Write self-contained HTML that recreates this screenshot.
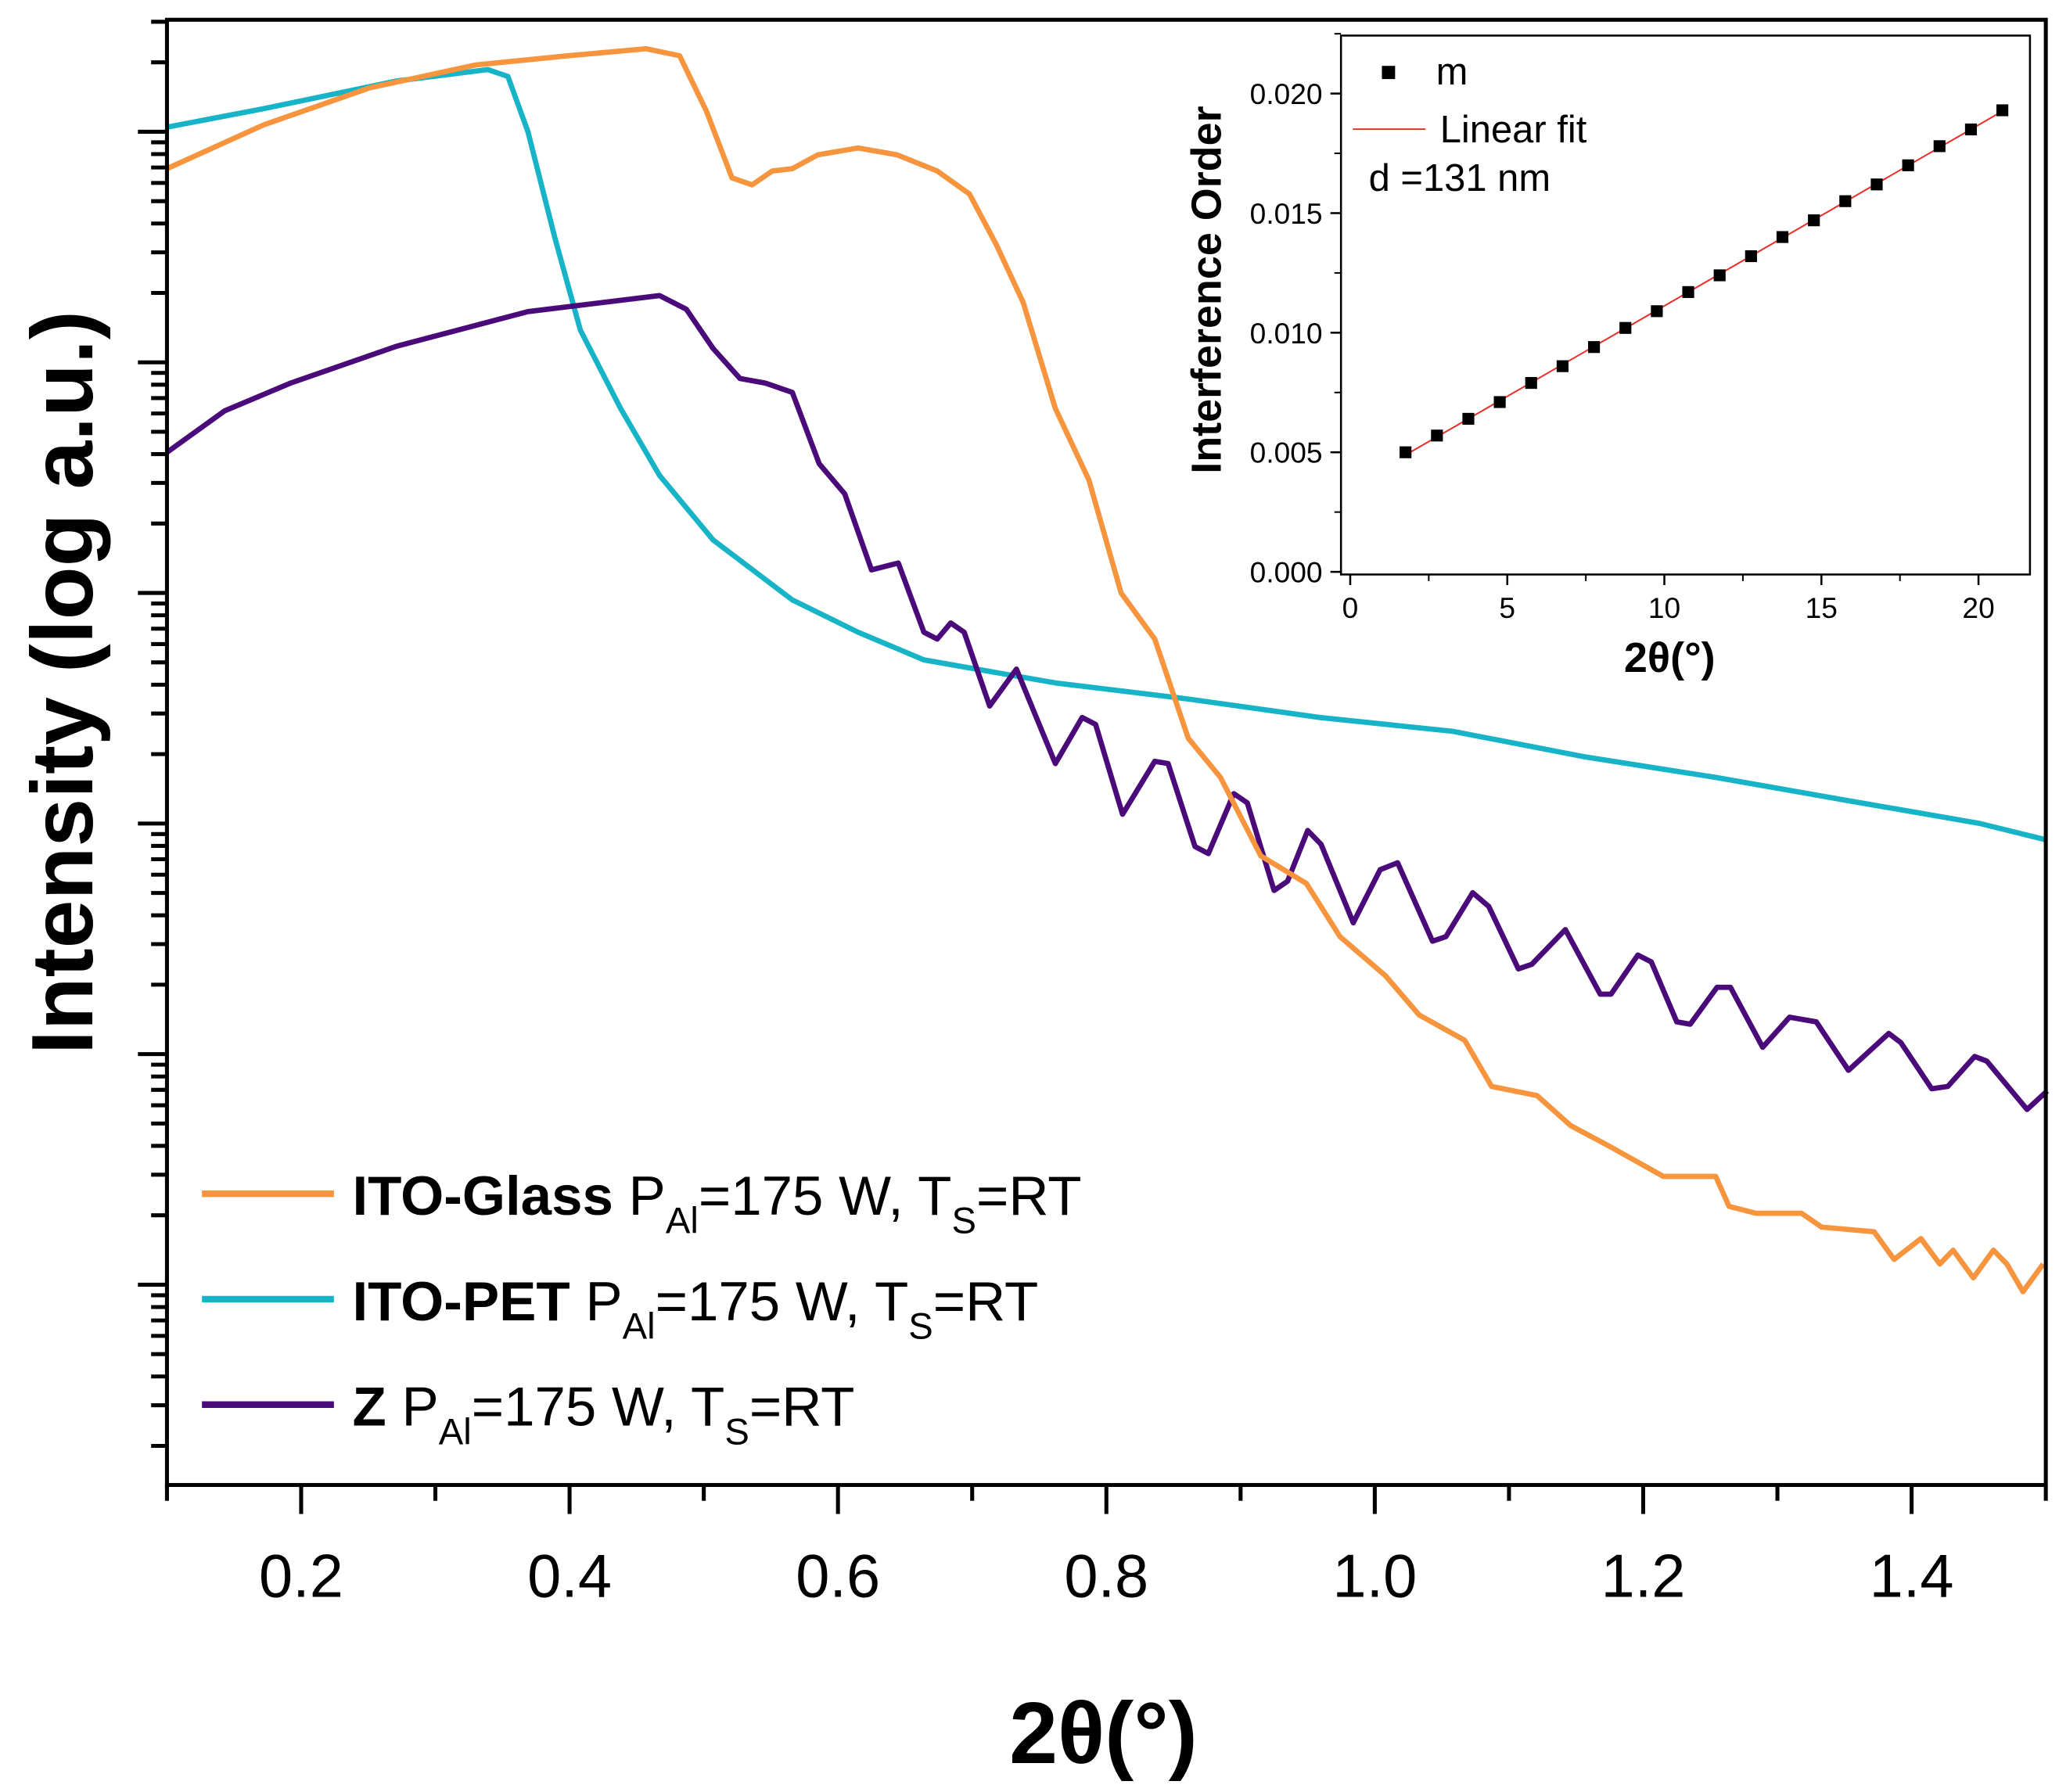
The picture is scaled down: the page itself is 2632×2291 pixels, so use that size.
<!DOCTYPE html>
<html><head><meta charset="utf-8"><style>
html,body{margin:0;padding:0;background:#fff;}
svg{display:block;font-family:"Liberation Sans",sans-serif;}
</style></head><body>
<svg id="chart" width="2632" height="2291" viewBox="0 0 1560 1360" preserveAspectRatio="none" xmlns="http://www.w3.org/2000/svg">
<g id="main"></g>
<g id="inset"></g>
</svg>
<script>
// ---- main chart data (x = 2theta deg, y = log10 intensity, arbitrary) ----
const glassX=[0.100,0.172,0.251,0.330,0.399,0.457,0.482,0.502,0.521,0.536,0.551,0.566,0.585,0.615,0.644,0.674,0.698,0.718,0.738,0.762,0.787,0.811,0.836,0.861,0.885,0.915,0.949,0.974,1.008,1.033,1.067,1.087,1.121,1.146,1.175,1.215,1.254,1.264,1.284,1.318,1.333,1.372,1.387,1.407,1.421,1.431,1.446,1.461,1.471,1.483,1.498];
const glassY=[4.84,5.03,5.19,5.29,5.33,5.36,5.33,5.09,4.80,4.77,4.83,4.84,4.90,4.93,4.90,4.83,4.73,4.51,4.26,3.80,3.49,3.00,2.80,2.37,2.20,1.86,1.74,1.51,1.34,1.17,1.06,0.86,0.82,0.69,0.60,0.47,0.47,0.34,0.31,0.31,0.25,0.23,0.11,0.20,0.09,0.15,0.03,0.15,0.09,-0.03,0.09];
const petX=[0.100,0.172,0.271,0.339,0.354,0.369,0.389,0.408,0.438,0.467,0.507,0.566,0.615,0.664,0.762,0.861,0.959,1.058,1.156,1.254,1.352,1.451,1.500];
const petY=[5.02,5.10,5.22,5.27,5.24,5.00,4.54,4.14,3.80,3.51,3.23,2.97,2.83,2.71,2.61,2.54,2.46,2.40,2.29,2.20,2.10,2.00,1.93];
const zX=[0.100,0.143,0.192,0.271,0.369,0.467,0.487,0.507,0.527,0.546,0.566,0.586,0.605,0.625,0.645,0.664,0.674,0.684,0.694,0.713,0.733,0.762,0.782,0.792,0.812,0.836,0.846,0.866,0.876,0.895,0.905,0.925,0.935,0.950,0.960,0.984,1.004,1.017,1.043,1.053,1.073,1.085,1.107,1.117,1.142,1.168,1.176,1.196,1.206,1.225,1.235,1.255,1.265,1.289,1.309,1.329,1.353,1.383,1.392,1.415,1.427,1.447,1.456,1.486,1.501];
const zY=[3.61,3.79,3.91,4.07,4.22,4.29,4.23,4.06,3.93,3.91,3.87,3.56,3.43,3.10,3.13,2.83,2.80,2.87,2.83,2.51,2.67,2.26,2.46,2.43,2.04,2.27,2.26,1.90,1.87,2.13,2.09,1.71,1.75,1.97,1.91,1.57,1.80,1.83,1.49,1.51,1.70,1.64,1.37,1.39,1.54,1.26,1.26,1.43,1.40,1.14,1.13,1.29,1.29,1.03,1.16,1.14,0.93,1.09,1.05,0.85,0.86,0.99,0.97,0.76,0.84];
const xTicks=[0.2,0.4,0.6,0.8,1.0,1.2,1.4];
const xTickLabels=["0.2","0.4","0.6","0.8","1.0","1.2","1.4"];
const decades=[-1,0,1,2,3,4,5];
// ---- inset data ----
const mX=[1.76,2.76,3.76,4.76,5.76,6.76,7.76,8.76,9.76,10.76,11.76,12.76,13.76,14.76,15.76,16.76,17.76,18.76,19.76,20.76];
const mY=[0.0050,0.0057,0.0064,0.0071,0.0079,0.0086,0.0094,0.0102,0.0109,0.0117,0.0124,0.0132,0.0140,0.0147,0.0155,0.0162,0.0170,0.0178,0.0185,0.0193];
const insetXTicks=[0,5,10,15,20];
const insetYTicks=[0,0.005,0.010,0.015,0.020];
const insetYLabels=["0.000","0.005","0.010","0.015","0.020"];

const NS="http://www.w3.org/2000/svg";
function mk(parent,tag,attrs,text){const e=document.createElementNS(NS,tag);for(const k in attrs)e.setAttribute(k,attrs[k]);if(text!==undefined)e.textContent=text;parent.appendChild(e);return e;}

const L=126.5,R=1550,T=15,B=1127;
const sx=v=>L+(v-0.1)/1.4*(R-L);
const sy=v=>975-175*v;
const main=document.getElementById('main');
function series(xs,ys,color,name){
  const d=xs.map((x,i)=>(i?'L':'M')+sx(x).toFixed(1)+','+sy(ys[i]).toFixed(1)).join('');
  const p=mk(main,'path',{d:d,fill:'none',stroke:color,'stroke-width':4,'stroke-linejoin':'round'});
  
  
}
series(petX,petY,'#17b3c6','ito-pet-line');
series(zX,zY,'#4b0a7a','z-line');
series(glassX,glassY,'#f7953f','ito-glass-line');
const frame=mk(main,'rect',{x:L,y:T,width:R-L,height:B-T,fill:'none',stroke:'#000','stroke-width':3});

for(let i=1;i<=15;i++){const v=i/10;const X=sx(v);const major=(i%2===0);mk(main,'line',{x1:X,x2:X,y1:B,y2:B+(major?22:12),stroke:'#000','stroke-width':3});}
xTicks.forEach((v,i)=>{const t=mk(main,'text',{x:sx(v),y:1212,'font-size':46,'text-anchor':'middle'},xTickLabels[i]);
});
decades.forEach(d=>{for(let k=1;k<=9;k++){const v=d+Math.log10(k);const Y=sy(v);if(Y<T||Y>B)continue;mk(main,'line',{x1:L,x2:L-(k===1?22:12),y1:Y,y2:Y,stroke:'#000','stroke-width':3});}});
const yt=mk(main,'text',{x:0,y:0,transform:'translate(70,518) rotate(-90)','font-size':66,'font-weight':'bold','text-anchor':'middle'},'Intensity (log a.u.)');

const xt=mk(main,'text',{x:836,y:1338,'font-size':66,'font-weight':'bold','text-anchor':'middle'},'2θ(°)');

const legs=[['#f7953f','ITO-Glass',906],['#17b3c6','ITO-PET',986],['#4b0a7a','Z',1066]];
legs.forEach(([c,b,y])=>{
  const g=mk(main,'g',{});
  
  
  mk(g,'line',{x1:153,x2:253,y1:y,y2:y,stroke:c,'stroke-width':5});
  const t=mk(g,'text',{x:267,y:y+16,'font-size':42});
  mk(t,'tspan',{'font-weight':'bold'},b+' ');
  mk(t,'tspan',{},'P');
  mk(t,'tspan',{dy:14,'font-size':28},'Al');
  mk(t,'tspan',{dy:-14},'=175 W, '+(b==='ITO-PET'?' ':'')+'T');
  mk(t,'tspan',{dy:14,'font-size':28},'S');
  mk(t,'tspan',{dy:-14},'=RT');
});

const ins=document.getElementById('inset');
const iL=1016,iR=1538,iT=27,iB=436;
const ix=v=>1023+v*23.8;
const iy=v=>434-v*18150;
mk(ins,'rect',{x:iL-8,y:iT-8,width:iR-iL+9,height:iB-iT+90,fill:'#fff'});
mk(ins,'rect',{x:iL,y:iT,width:iR-iL,height:iB-iT,fill:'#fff',stroke:'#000','stroke-width':1.5});
insetXTicks.forEach(v=>{mk(ins,'line',{x1:ix(v),x2:ix(v),y1:iB,y2:iB+8,stroke:'#000','stroke-width':1.5});
 const t=mk(ins,'text',{x:ix(v),y:469,'font-size':22,'text-anchor':'middle'},String(v));
 
 if(v<20)mk(ins,'line',{x1:ix(v+2.5),x2:ix(v+2.5),y1:iB,y2:iB+5,stroke:'#000','stroke-width':1.2});});
insetYTicks.forEach((v,i)=>{mk(ins,'line',{x1:iL,x2:iL-8,y1:iy(v),y2:iy(v),stroke:'#000','stroke-width':1.5});
 mk(ins,'line',{x1:iL,x2:iL-5,y1:iy(v+0.0025),y2:iy(v+0.0025),stroke:'#000','stroke-width':1.2});
 const t=mk(ins,'text',{x:1002,y:iy(v)+8,'font-size':22,'text-anchor':'end'},insetYLabels[i]);
 });
const n=mX.length,mx=mX.reduce((a,b)=>a+b)/n,my=mY.reduce((a,b)=>a+b)/n;
let sxy=0,sxx=0;mX.forEach((x,i)=>{sxy+=(x-mx)*(mY[i]-my);sxx+=(x-mx)*(x-mx);});
const sl=sxy/sxx,ic=my-sl*mx;
const fit=mk(ins,'line',{x1:ix(mX[0]),y1:iy(ic+sl*mX[0]),x2:ix(mX[n-1]),y2:iy(ic+sl*mX[n-1]),stroke:'#e8302a','stroke-width':1.2});

mX.forEach((x,i)=>{const r=mk(ins,'rect',{x:ix(x)-4.5,y:iy(mY[i])-4.5,width:9,height:9,fill:'#000'});
 });
const it1=mk(ins,'text',{x:0,y:0,transform:'translate(925,220) rotate(-90)','font-size':32,'font-weight':'bold','text-anchor':'middle'},'Interference Order');

const it2=mk(ins,'text',{x:1265,y:510,'font-size':32,'font-weight':'bold','text-anchor':'middle'},'2θ(°)');

mk(ins,'rect',{x:1047,y:50,width:10,height:10,fill:'#000'});
mk(ins,'text',{x:1088,y:64,'font-size':29},'m');
mk(ins,'line',{x1:1025,x2:1080,y1:98,y2:98,stroke:'#e8302a','stroke-width':1.2});
mk(ins,'text',{x:1091,y:108,'font-size':29},'Linear fit');
mk(ins,'text',{x:1037,y:145,'font-size':29},'d =131 nm');
</script>
</body></html>
